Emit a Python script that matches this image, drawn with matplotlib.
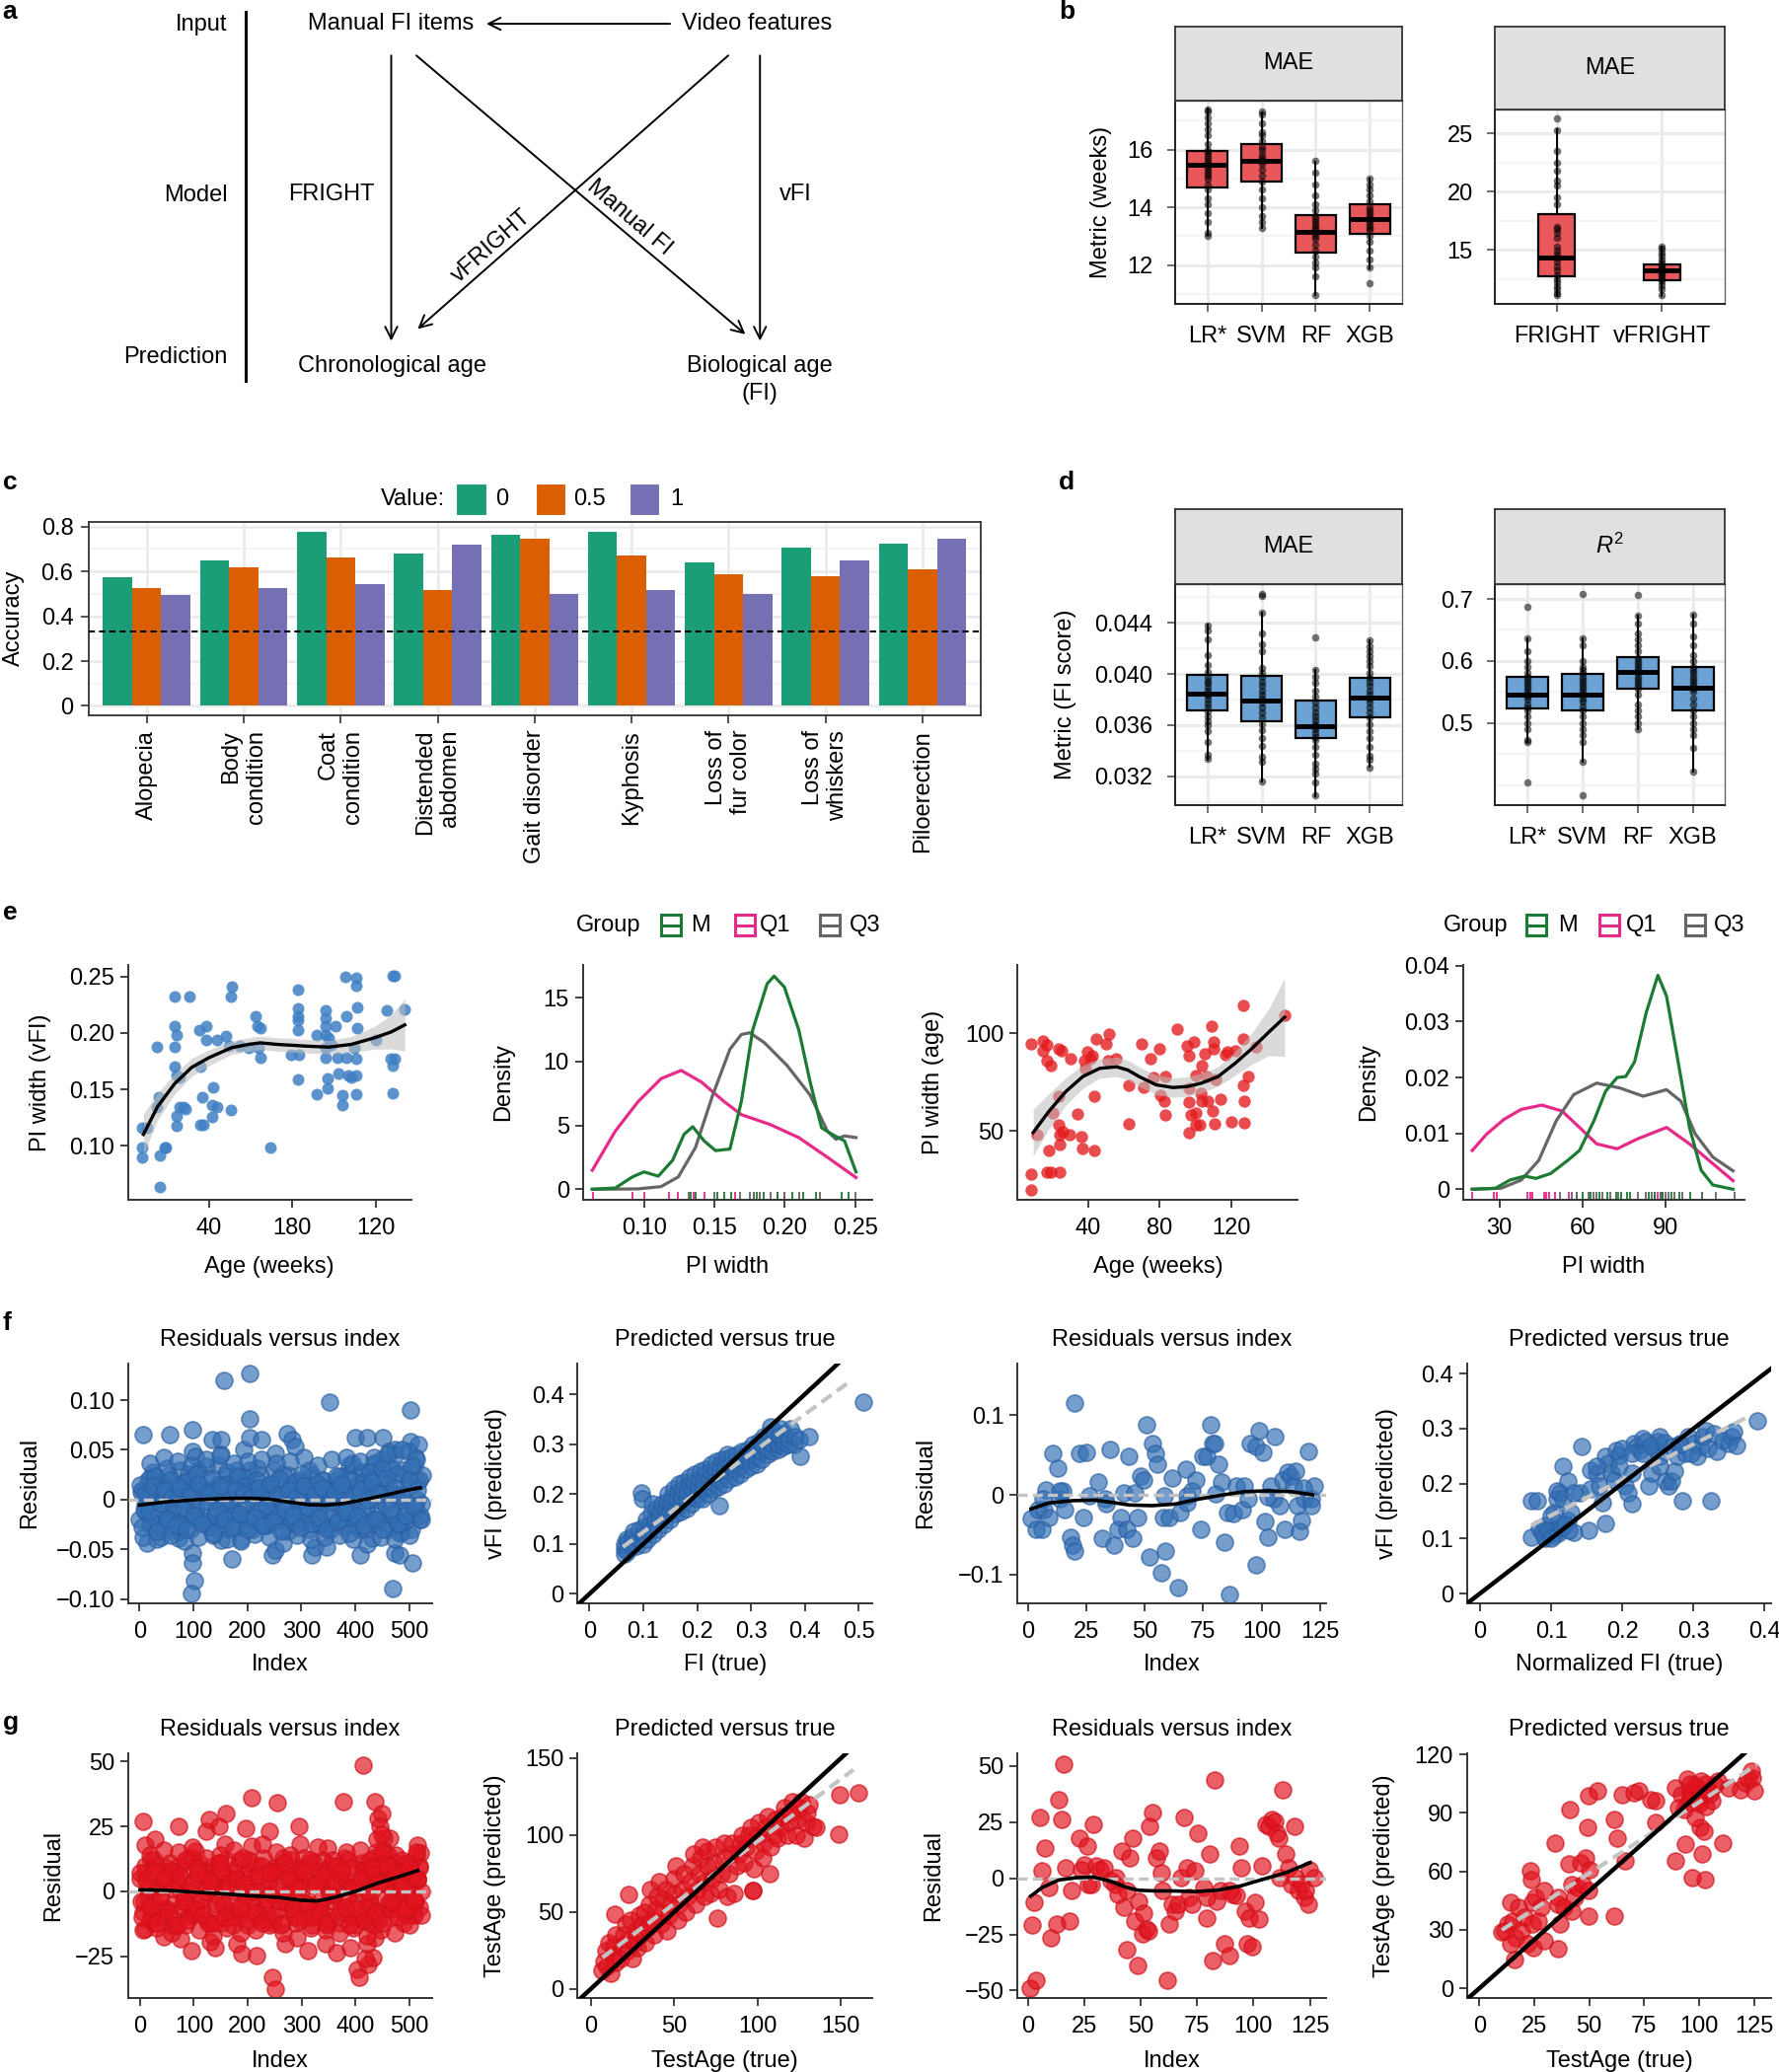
import matplotlib
matplotlib.use('Agg')
import matplotlib.pyplot as plt
import numpy as np
import matplotlib.transforms as mtransforms
from matplotlib.patches import Rectangle
from matplotlib.ticker import FixedLocator

plt.rcParams['font.family'] = ['Liberation Sans', 'DejaVu Sans']
plt.rcParams['font.size'] = 17
plt.rcParams['mathtext.fontset'] = 'custom'
plt.rcParams['mathtext.rm'] = 'Liberation Sans'
plt.rcParams['mathtext.it'] = 'Liberation Sans:italic'

# ------------------------------------------------------------------ DATA
# panel b (MAE in weeks)
b1_cats = ['LR*', 'SVM', 'RF', 'XGB']
b1_med = [15.46, 15.61, 13.16, 13.58]
b1_q1 = [14.68, 14.89, 12.42, 13.07]
b1_q3 = [15.94, 16.18, 13.74, 14.12]
b1_lo = [13.04, 13.30, 10.95, 11.88]
b1_hi = [17.41, 17.28, 15.56, 14.99]
b1_pts = [
    [13.0, 13.1, 13.5, 13.8, 14.1, 14.3, 14.6, 14.8, 15.0, 15.1, 15.2, 15.3, 15.4, 15.5, 15.6, 15.7, 15.8, 15.9, 16.0, 16.2, 16.5, 16.7, 16.9, 17.1, 17.3, 17.4],
    [13.3, 13.5, 13.7, 14.0, 14.3, 14.6, 14.9, 15.1, 15.3, 15.5, 15.6, 15.7, 15.8, 16.0, 16.1, 16.3, 16.5, 16.6, 16.9, 17.2, 17.3],
    [10.95, 11.6, 11.9, 12.1, 12.3, 12.5, 12.7, 12.9, 13.0, 13.1, 13.2, 13.3, 13.4, 13.5, 13.6, 13.7, 13.9, 14.1, 14.4, 14.8, 15.2, 15.6],
    [11.37, 11.9, 12.2, 12.5, 12.8, 13.0, 13.2, 13.3, 13.4, 13.5, 13.6, 13.7, 13.8, 13.9, 14.0, 14.2, 14.4, 14.6, 14.8, 15.0],
]
b2_cats = ['FRIGHT', 'vFRIGHT']
b2_med = [14.30, 13.24]
b2_q1 = [12.72, 12.41]
b2_q3 = [18.08, 13.79]
b2_lo = [11.06, 11.06]
b2_hi = [25.34, 15.28]
b2_pts = [
    [11.1, 11.3, 11.6, 11.9, 12.2, 12.5, 12.8, 13.2, 13.6, 14.0, 14.3, 14.6, 14.9, 15.3, 16.0, 16.5, 16.8, 17.0, 18.9, 19.5, 20.5, 21.0, 21.8, 22.5, 23.5, 25.3, 26.3],
    [11.1, 11.6, 12.0, 12.3, 12.5, 12.7, 12.9, 13.1, 13.2, 13.3, 13.5, 13.7, 13.9, 14.2, 14.5, 14.8, 15.1, 15.3],
]

# panel c (accuracy per FI item)
c_items = ['Alopecia', 'Body\ncondition', 'Coat\ncondition', 'Distended\nabdomen',
           'Gait disorder', 'Kyphosis', 'Loss of\nfur color', 'Loss of\nwhiskers', 'Piloerection']
c_acc0 = [0.576, 0.648, 0.777, 0.678, 0.763, 0.779, 0.642, 0.708, 0.724]
c_acc05 = [0.528, 0.617, 0.662, 0.519, 0.746, 0.671, 0.586, 0.580, 0.610]
c_acc1 = [0.496, 0.528, 0.542, 0.720, 0.500, 0.519, 0.500, 0.651, 0.748]
c_values = ['0', '0.5', '1']
c_chance = 0.333

# panel d (MAE in FI score, R^2)
d_cats = ['LR*', 'SVM', 'RF', 'XGB']
d1_med = [0.03847, 0.03795, 0.03592, 0.03818]
d1_q1 = [0.03714, 0.03629, 0.03496, 0.03665]
d1_q3 = [0.03992, 0.03982, 0.03792, 0.03971]
d1_lo = [0.03332, 0.03158, 0.03047, 0.03273]
d1_hi = [0.04387, 0.04483, 0.04031, 0.04262]
d1_pts = [
    [0.0334, 0.0337, 0.0347, 0.0355, 0.0360, 0.0363, 0.0367, 0.0371, 0.0374, 0.0377, 0.0380, 0.0383, 0.0385, 0.0387, 0.0390, 0.0393, 0.0395, 0.0398, 0.0402, 0.0407, 0.0415, 0.0427, 0.0434, 0.0438],
    [0.0316, 0.0331, 0.0335, 0.0344, 0.0350, 0.0356, 0.0361, 0.0366, 0.0370, 0.0374, 0.0378, 0.0381, 0.0384, 0.0387, 0.0391, 0.0394, 0.0398, 0.0401, 0.0405, 0.0418, 0.0423, 0.0432, 0.0448, 0.0461, 0.0463],
    [0.0305, 0.0315, 0.0322, 0.0326, 0.0330, 0.0337, 0.0343, 0.0348, 0.0351, 0.0354, 0.0357, 0.0359, 0.0361, 0.0364, 0.0367, 0.0370, 0.0374, 0.0378, 0.0382, 0.0387, 0.0393, 0.0398, 0.0403, 0.0429],
    [0.0327, 0.0333, 0.0336, 0.0343, 0.0350, 0.0355, 0.0361, 0.0366, 0.0370, 0.0374, 0.0378, 0.0381, 0.0384, 0.0387, 0.0391, 0.0394, 0.0397, 0.0401, 0.0406, 0.0410, 0.0414, 0.0418, 0.0422, 0.0426],
]
d2_med = [0.546, 0.545, 0.583, 0.557]
d2_q1 = [0.524, 0.520, 0.555, 0.520]
d2_q3 = [0.575, 0.579, 0.606, 0.590]
d2_lo = [0.4685, 0.438, 0.490, 0.422]
d2_hi = [0.636, 0.636, 0.673, 0.675]
d2_pts = [
    [0.404, 0.469, 0.473, 0.49, 0.5, 0.51, 0.52, 0.525, 0.53, 0.537, 0.542, 0.546, 0.55, 0.555, 0.56, 0.565, 0.57, 0.575, 0.58, 0.59, 0.6, 0.615, 0.636, 0.687],
    [0.383, 0.438, 0.47, 0.48, 0.49, 0.5, 0.51, 0.52, 0.527, 0.535, 0.54, 0.545, 0.55, 0.555, 0.56, 0.565, 0.57, 0.575, 0.58, 0.585, 0.59, 0.6, 0.625, 0.636, 0.708],
    [0.49, 0.5, 0.51, 0.52, 0.53, 0.545, 0.555, 0.56, 0.565, 0.57, 0.575, 0.58, 0.585, 0.59, 0.595, 0.6, 0.605, 0.615, 0.625, 0.635, 0.645, 0.66, 0.673, 0.707],
    [0.422, 0.46, 0.48, 0.49, 0.5, 0.51, 0.52, 0.53, 0.54, 0.55, 0.555, 0.56, 0.565, 0.57, 0.575, 0.58, 0.585, 0.59, 0.6, 0.61, 0.625, 0.64, 0.66, 0.675],
]

# panel e1: PI width (vFI) vs age
e1_age = [7.8, 10.5, 7.8, 7.8, 16.5, 16.5, 19.5, 19.0, 14.9, 14.9, 16.0, 23.6, 30.7, 23.6, 24.7, 23.6, 23.6, 24.7, 25.8, 25.8,
          24.7, 24.7, 28.0, 29.0, 35.9, 36.7, 35.9, 37.3, 35.6, 38.9, 38.9, 43.8, 42.2, 41.6, 43.8, 41.6, 50.7, 50.9, 50.7, 48.2,
          49.8, 55.0, 59.1, 62.4, 63.5, 64.6, 64.0, 64.6, 69.5, 79.6, 82.9, 82.9, 82.9, 82.9, 82.9, 82.9, 83.4, 91.9, 91.9, 96.0,
          96.0, 96.0, 96.0, 96.0, 96.0, 96.8, 96.8, 97.4, 98.7, 100.7, 101.5, 102.3, 104.2, 104.2, 105.6, 106.1, 106.1, 106.9, 108.3, 109.7,
          110.5, 110.5, 111.0, 111.0, 110.5, 110.5, 110.5, 120.0, 125.2, 127.4, 128.0, 128.0, 129.1, 128.0, 129.3, 134.0]
e1_piw = [0.116, 0.116, 0.0986, 0.0899, 0.0913, 0.063, 0.0986, 0.0986, 0.1877, 0.1347, 0.1434, 0.2323, 0.2323, 0.2057, 0.1979, 0.1877, 0.1704, 0.1622, 0.1608, 0.1347,
          0.126, 0.1174, 0.1347, 0.1327, 0.1704, 0.1434, 0.1182, 0.1182, 0.2028, 0.2063, 0.1941, 0.1941, 0.1521, 0.1362, 0.1347, 0.1255, 0.1318, 0.241, 0.2323, 0.197,
          0.1883, 0.1883, 0.1869, 0.2144, 0.2057, 0.2042, 0.1869, 0.1782, 0.0986, 0.1802, 0.2381, 0.2216, 0.2144, 0.2115, 0.2028, 0.1588, 0.1802, 0.1984, 0.1455, 0.2201,
          0.2129, 0.2057, 0.1984, 0.1869, 0.1782, 0.1594, 0.1512, 0.1955, 0.1898, 0.2057, 0.1782, 0.1637, 0.1449, 0.1362, 0.2497, 0.2144, 0.1782, 0.1622, 0.1608, 0.1869,
          0.2491, 0.2419, 0.2230, 0.2042, 0.1767, 0.1622, 0.1455, 0.1941, 0.2201, 0.1767, 0.1709, 0.2506, 0.2506, 0.1463, 0.1767, 0.2207]
e1_fit_x = [8.6, 15.4, 23.6, 31.8, 40.0, 50.9, 59.1, 64.6, 72.8, 86.4, 97.4, 108.3, 119.2, 127.4, 134.0]
e1_fit_y = [0.110, 0.1347, 0.155, 0.1695, 0.178, 0.1869, 0.1898, 0.1912, 0.1898, 0.1883, 0.1874, 0.1898, 0.1955, 0.2008, 0.2071]
e1_fit_se = [0.018, 0.012, 0.009, 0.008, 0.007, 0.006, 0.006, 0.006, 0.006, 0.006, 0.006, 0.007, 0.010, 0.015, 0.023]
e1_xtick_vals = [40, 80, 120]
e1_xtick_labels = ['40', '180', '120']

# panel e2: density of PI width (vFI)
e2_q1_x = [0.0634, 0.0797, 0.0959, 0.1122, 0.1264, 0.1407, 0.1569, 0.1691, 0.1894, 0.2098, 0.2301, 0.2504]
e2_q1_y = [1.49, 4.56, 6.87, 8.67, 9.31, 8.41, 6.87, 5.85, 5.08, 4.05, 2.51, 0.92]
e2_m_x = [0.0634, 0.0797, 0.0919, 0.1, 0.1102, 0.1203, 0.1285, 0.1346, 0.1427, 0.1508, 0.161, 0.1691, 0.1772, 0.1874, 0.1923,
          0.1996, 0.2098, 0.2179, 0.226, 0.2341, 0.2423, 0.2504]
e2_m_y = [0.0, 0.1, 0.97, 1.36, 1.03, 2.26, 4.31, 4.9, 3.79, 3.03, 3.15, 6.87, 12.5, 16.1, 16.7, 15.85, 12.5, 8.41, 4.82, 4.26, 3.79, 1.36]
e2_q3_x = [0.0634, 0.0959, 0.1122, 0.1244, 0.1366, 0.1488, 0.161, 0.1691, 0.1752, 0.1854, 0.2016, 0.2179, 0.2301, 0.2362, 0.2423, 0.2504]
e2_q3_y = [0.0, 0.03, 0.21, 0.97, 3.28, 7.38, 10.97, 12.13, 12.26, 11.49, 9.69, 7.38, 4.56, 3.92, 4.18, 4.05]
e2_rug_q1 = [0.064, 0.092, 0.100, 0.118, 0.124, 0.135, 0.143, 0.165, 0.178, 0.195, 0.200]
e2_rug_m = [0.133, 0.137, 0.152, 0.157, 0.162, 0.180, 0.185, 0.195, 0.205, 0.213, 0.222, 0.240, 0.245]
e2_rug_q3 = [0.132, 0.150, 0.168, 0.175, 0.178, 0.182, 0.190, 0.200, 0.210, 0.225, 0.250]

# panel e3: PI width (age) vs age
e3_age = [8.7, 8.7, 8.7, 11.5, 15.2, 15.2, 17.4, 17.4, 18.4, 19.6, 20.6, 17.4, 19.6, 24.6, 24.0, 25.3, 24.0, 24.0, 24.6, 24.6,
          26.2, 29.7, 30.3, 34.0, 36.6, 37.2, 38.4, 37.8, 39.7, 41.3, 42.5, 43.4, 43.4, 44.4, 50.3, 51.0, 51.9, 55.4, 62.9, 62.9,
          70.1, 71.0, 74.8, 76.4, 79.8, 80.4, 82.6, 83.3, 82.9, 89.8, 95.2, 96.1, 96.1, 96.1, 96.1, 97.4, 98.9, 100.2, 100.2, 100.2,
          102.1, 102.7, 103.6, 103.6, 105.2, 106.1, 106.5, 108.7, 109.3, 109.9, 110.2, 110.5, 111.2, 114.0, 116.5, 117.7, 119.6, 121.8, 126.5, 126.2,
          126.2, 126.8, 126.8, 129.3, 133.7, 149.4]
e3_piw = [94.3, 28.1, 20.0, 48.0, 96.0, 91.2, 94.1, 85.9, 39.9, 83.3, 59.3, 29.0, 29.0, 29.0, 92.1, 91.2, 68.0, 53.4, 48.0, 43.3,
          49.7, 48.0, 87.0, 58.9, 47.0, 41.2, 82.0, 85.9, 90.4, 87.0, 88.2, 68.0, 39.9, 96.8, 94.6, 85.9, 99.7, 86.7, 73.1, 53.9,
          94.3, 72.2, 87.0, 77.3, 92.1, 68.5, 65.2, 58.1, 77.8, 102.2, 93.3, 88.4, 71.9, 64.8, 49.2, 58.4, 95.5, 78.6, 59.3, 53.4,
          53.4, 69.4, 83.3, 65.2, 89.6, 77.8, 65.2, 103.4, 60.1, 95.5, 91.8, 53.9, 76.1, 66.5, 89.1, 90.4, 54.5, 91.2, 114.0, 97.1,
          73.2, 65.2, 54.0, 78.1, 92.9, 109.3]
e3_fit_x = [9.6, 18.4, 27.8, 37.2, 46.6, 56.0, 62.3, 68.5, 77.9, 87.3, 95.2, 103.0, 112.4, 121.8, 131.2, 140.6, 149.4]
e3_fit_y = [49.2, 60.1, 70.2, 77.8, 82.0, 82.8, 81.1, 77.8, 73.6, 72.2, 72.7, 74.4, 77.8, 84.5, 92.1, 100.5, 108.1]
e3_fit_se = [12, 9, 7, 6, 5, 5, 5, 5, 5, 5, 5, 5, 5, 6, 8, 12, 20]
e3_xtick_vals = [40, 80, 120]

# panel e4: density of PI width (age)
e4_q1_x = [20.2, 25.4, 31.7, 37.9, 45.3, 52.6, 58.9, 65.1, 72.5, 79.8, 90.3, 98.6, 107.0, 114.3]
e4_q1_y = [0.00694, 0.00988, 0.01253, 0.01429, 0.01506, 0.0140, 0.01106, 0.00812, 0.00724, 0.0090, 0.01106, 0.00812, 0.00459, 0.00153]
e4_m_x = [20.2, 28.6, 33.8, 39.1, 43.2, 48.5, 54.7, 58.9, 64.1, 68.3, 72.5, 75.6, 78.8, 83.0, 87.2, 90.3, 94.5, 98.6, 102.8, 107.0, 114.3]
e4_m_y = [0.0, 0.00018, 0.00165, 0.00235, 0.00194, 0.00282, 0.00518, 0.00694, 0.01224, 0.01753, 0.0200, 0.02018, 0.02282, 0.03165,
          0.03829, 0.03459, 0.02282, 0.01106, 0.00341, 0.00076, 0.0]
e4_q3_x = [20.2, 30.6, 37.9, 44.2, 50.5, 56.8, 65.1, 73.5, 81.9, 90.3, 95.5, 100.7, 107.0, 114.3]
e4_q3_y = [0.0, 0.00018, 0.00165, 0.00518, 0.01224, 0.01694, 0.0190, 0.01812, 0.01665, 0.01782, 0.01576, 0.00988, 0.00576, 0.00329]
e4_rug_q1 = [20, 28, 29, 40, 41, 42, 46, 47, 48, 50, 55, 86, 87, 88, 89]
e4_rug_m = [58, 60, 63, 66, 69, 72, 74, 76, 77, 84, 86, 89, 92, 95, 99, 103]
e4_rug_q3 = [52, 56, 58, 62, 64, 65, 67, 70, 73, 80, 83, 85, 88, 90, 91, 93, 96, 103, 108, 115]

# panel f1: vFI residuals versus index (outliers + dense band)
f1_idx = [6, 56, 99, 99, 104, 156, 205, 205, 135, 151, 151, 193, 204, 226, 252, 273, 283, 289, 352, 400,
          423, 452, 503, 503, 518, 511, 463, 474, 389, 14, 40, 72, 99, 99, 101, 96, 172, 151, 188, 246,
          252, 320, 326, 347, 410, 431, 470, 474, 482, 506, 486, 521,
          0, 5, 10, 15, 20, 25, 30, 35, 40, 45, 50, 55, 60, 65, 70, 75, 80, 85, 90, 95,
          100, 105, 110, 115, 120, 125, 130, 135, 140, 145, 150, 155, 160, 165, 170, 175, 180, 185, 190, 195,
          200, 205, 210, 215, 220, 225, 230, 235, 240, 245, 250, 255, 260, 265, 270, 275, 280, 285, 290, 295,
          300, 305, 310, 315, 320, 325, 330, 335, 340, 345, 350, 355, 360, 365, 370, 375, 380, 385, 390, 395,
          400, 405, 410, 415, 420, 425, 430, 435, 440, 445, 450, 455, 460, 465, 470, 475, 480, 485, 490, 495,
          500, 505, 510, 515, 520, 525,
          3, 11, 19, 27, 35, 43, 51, 59, 67, 75, 83, 91, 99, 107, 115, 123, 131, 139, 147, 155,
          163, 171, 179, 187, 195, 203, 211, 219, 227, 235, 243, 251, 259, 267, 275, 283, 291, 299, 307, 315,
          323, 331, 339, 347, 355, 363, 371, 379, 387, 395, 403, 411, 419, 427, 435, 443, 451, 459, 467, 475,
          483, 491, 499, 507, 515, 523,
          6, 19, 32, 45, 58, 71, 84, 97, 110, 123, 136, 149, 162, 175, 188, 201, 214, 227, 240, 253,
          266, 279, 292, 305, 318, 331, 344, 357, 370, 383, 396, 409, 422, 435, 448, 461, 474, 487, 500, 513]
f1_res = [0.065, 0.065, 0.070, 0.048, 0.043, 0.120, 0.127, 0.081, 0.060, 0.060, 0.045, 0.050, 0.062, 0.060, 0.046, 0.066, 0.060, 0.053, 0.098, 0.062,
          0.062, 0.062, 0.090, 0.058, 0.055, 0.042, 0.048, 0.050, 0.035, -0.044, -0.038, -0.039, -0.054, -0.064, -0.082, -0.095, -0.060, -0.041, -0.040, -0.056,
          -0.051, -0.056, -0.048, -0.048, -0.056, -0.039, -0.090, -0.054, -0.056, -0.064, -0.033, -0.016,
          -0.020, 0.010, -0.005, 0.020, -0.025, 0.028, 0.000, -0.015, 0.018, -0.030, 0.005, 0.025, -0.010, 0.015, -0.022, 0.030, 0.000, -0.018, 0.012, -0.030,
          0.020, -0.008, 0.030, -0.020, 0.005, 0.022, -0.028, 0.010, -0.012, 0.035, -0.020, 0.000, 0.025, -0.030, 0.012, -0.010, 0.030, -0.022, 0.005, 0.020,
          -0.015, 0.030, -0.030, 0.010, -0.005, 0.025, -0.025, 0.000, 0.015, -0.020, 0.030, -0.010, 0.020, -0.030, 0.005, 0.025, -0.015, 0.010, -0.025, 0.020,
          0.000, -0.020, 0.015, -0.030, 0.025, -0.010, 0.005, -0.025, 0.020, -0.015, 0.010, -0.030, 0.000, 0.020, -0.020, 0.010, -0.028, 0.025, -0.010, 0.000,
          -0.020, 0.015, -0.030, 0.028, -0.010, 0.020, -0.025, 0.035, 0.000, -0.020, 0.040, 0.010, -0.030, 0.030, -0.015, 0.045, 0.000, -0.025, 0.030, -0.010,
          0.020, -0.030, 0.035, 0.000, -0.020, 0.025,
          0.008, -0.012, 0.022, -0.002, -0.024, 0.014, 0.032, -0.016, 0.004, -0.032, 0.018, 0.026, -0.006, -0.020, 0.010, 0.034, -0.026, 0.000, 0.016, -0.014,
          0.028, -0.004, -0.028, 0.012, 0.022, -0.018, 0.006, 0.032, -0.010, -0.026, 0.014, 0.002, -0.016, 0.026, -0.032, 0.008, -0.006, 0.018, -0.022, 0.030,
          0.004, -0.012, 0.020, -0.028, 0.012, -0.002, 0.024, -0.020, 0.008, 0.036, -0.016, 0.028, -0.030, 0.014, 0.042, -0.008, 0.022, -0.024, 0.032, 0.006,
          -0.034, 0.026, 0.048, -0.014, 0.018, -0.004,
          -0.038, 0.036, -0.040, 0.042, -0.036, 0.038, -0.042, 0.035, -0.038, 0.040, -0.036, 0.044, -0.040, 0.036, -0.042, 0.038, -0.035, 0.040, -0.038, 0.036,
          -0.044, 0.038, -0.036, 0.042, -0.040, 0.035, -0.038, 0.040, -0.036, 0.042, -0.040, 0.038, -0.045, 0.036, -0.038, 0.045, -0.040, 0.050, -0.036, 0.040]
# extra band points (index positions shared by the two extra f1 / g1 bands)
band_idx_d = [1, 8, 15, 22, 29, 36, 43, 50, 57, 64, 71, 78, 85, 92, 99, 106, 113, 120, 127, 134,
              141, 148, 155, 162, 169, 176, 183, 190, 197, 204, 211, 218, 225, 232, 239, 246, 253, 260, 267, 274,
              281, 288, 295, 302, 309, 316, 323, 330, 337, 344, 351, 358, 365, 372, 379, 386, 393, 400, 407, 414,
              421, 428, 435, 442, 449, 456, 463, 470, 477, 484, 491, 498, 505, 512, 519]
band_idx_e = [4, 11, 18, 25, 32, 39, 46, 53, 60, 67, 74, 81, 88, 95, 102, 109, 116, 123, 130, 137,
              144, 151, 158, 165, 172, 179, 186, 193, 200, 207, 214, 221, 228, 235, 242, 249, 256, 263, 270, 277,
              284, 291, 298, 305, 312, 319, 326, 333, 340, 347, 354, 361, 368, 375, 382, 389, 396, 403, 410, 417,
              424, 431, 438, 445, 452, 459, 466, 473, 480, 487, 494, 501, 508, 515, 522]
f1_res_d = [0.015, -0.010, 0.004, -0.022, 0.024, -0.004, 0.012, -0.018, 0.020, -0.008,
            0.002, -0.026, 0.018, 0.008, -0.014, 0.026, -0.020, 0.006, -0.002, 0.022,
            -0.016, 0.010, -0.024, 0.016, 0.000, -0.012, 0.024, -0.006, 0.014, -0.020,
            0.004, 0.020, -0.010, -0.026, 0.012, 0.002, -0.016, 0.022, -0.004, 0.008,
            -0.022, 0.018, -0.008, 0.026, -0.014, 0.006, -0.002, 0.016, -0.024, 0.010,
            0.000, -0.018, 0.024, -0.006, 0.014, -0.012, 0.020, -0.026, 0.004, 0.018,
            -0.010, 0.028, -0.020, 0.008, 0.032, -0.004, 0.016, -0.014, 0.026, 0.000,
            -0.022, 0.012, 0.034, -0.008, 0.020]
f1_res_e = [-0.028, 0.006, -0.012, 0.014, -0.032, -0.004, 0.010, -0.020, 0.002, -0.026,
            0.012, -0.008, -0.030, 0.004, -0.016, 0.016, -0.024, -0.002, 0.008, -0.034,
            -0.010, 0.014, -0.020, 0.000, -0.028, 0.010, -0.014, 0.006, -0.030, 0.002,
            -0.018, 0.012, -0.026, -0.006, 0.016, -0.022, 0.004, -0.032, -0.010, 0.010,
            -0.016, 0.002, -0.028, 0.014, -0.008, -0.024, 0.006, -0.018, 0.012, -0.030,
            -0.002, 0.008, -0.022, 0.016, -0.012, -0.034, 0.004, -0.016, 0.010, -0.026,
            0.000, 0.018, -0.020, 0.006, -0.030, 0.022, -0.010, 0.012, -0.024, 0.004,
            -0.016, 0.020, -0.006, 0.010, -0.020]
f1_fit_x = [0, 50.7, 103.6, 156.4, 199.8, 241, 283.3, 315, 346.7, 378.4, 420.7, 463, 494.7, 521]
f1_fit_y = [-0.0056, -0.0023, -0.0003, 0.001, 0.0013, 0.0003, -0.003, -0.0053, -0.0056, -0.004, 0.0003, 0.0053, 0.0092, 0.0119]

# panel f2: vFI predicted versus true FI
f2_true = [0.065, 0.065, 0.066, 0.068, 0.070, 0.072, 0.078, 0.080, 0.080, 0.082, 0.088, 0.090, 0.092, 0.096, 0.098, 0.100, 0.100, 0.102, 0.105, 0.108,
           0.110, 0.112, 0.114, 0.116, 0.118, 0.120, 0.122, 0.124, 0.128, 0.130, 0.132, 0.134, 0.138, 0.140, 0.142, 0.144, 0.146, 0.150, 0.150, 0.152,
           0.154, 0.156, 0.160, 0.160, 0.162, 0.164, 0.166, 0.170, 0.170, 0.172, 0.174, 0.176, 0.180, 0.180, 0.182, 0.184, 0.186, 0.190, 0.190, 0.192,
           0.194, 0.196, 0.200, 0.200, 0.202, 0.204, 0.206, 0.210, 0.210, 0.212, 0.214, 0.216, 0.220, 0.220, 0.222, 0.224, 0.226, 0.230, 0.230, 0.232,
           0.234, 0.236, 0.240, 0.240, 0.242, 0.244, 0.246, 0.241, 0.250, 0.250, 0.252, 0.254, 0.256, 0.260, 0.260, 0.262, 0.264, 0.270, 0.270, 0.272,
           0.274, 0.280, 0.280, 0.282, 0.284, 0.290, 0.290, 0.292, 0.294, 0.300, 0.300, 0.302, 0.304, 0.310, 0.310, 0.312, 0.314, 0.320, 0.320, 0.322,
           0.324, 0.330, 0.330, 0.332, 0.334, 0.336, 0.340, 0.340, 0.342, 0.344, 0.350, 0.350, 0.352, 0.354, 0.360, 0.360, 0.362, 0.370, 0.370, 0.372,
           0.380, 0.382, 0.391, 0.390, 0.408, 0.508]
f2_pred = [0.090, 0.100, 0.080, 0.110, 0.085, 0.105, 0.095, 0.100, 0.115, 0.125, 0.095, 0.110, 0.130, 0.203, 0.190, 0.100, 0.120, 0.135, 0.150, 0.110,
           0.125, 0.140, 0.160, 0.180, 0.120, 0.140, 0.150, 0.170, 0.130, 0.150, 0.165, 0.180, 0.140, 0.155, 0.170, 0.185, 0.200, 0.150, 0.165, 0.180,
           0.195, 0.210, 0.160, 0.170, 0.190, 0.205, 0.220, 0.165, 0.180, 0.195, 0.210, 0.225, 0.170, 0.190, 0.205, 0.220, 0.235, 0.180, 0.195, 0.210,
           0.225, 0.240, 0.190, 0.200, 0.215, 0.230, 0.245, 0.190, 0.210, 0.225, 0.240, 0.250, 0.200, 0.215, 0.230, 0.245, 0.260, 0.210, 0.225, 0.240,
           0.250, 0.265, 0.215, 0.230, 0.245, 0.260, 0.270, 0.176, 0.220, 0.240, 0.255, 0.270, 0.280, 0.230, 0.245, 0.260, 0.275, 0.235, 0.250, 0.265,
           0.280, 0.240, 0.255, 0.270, 0.285, 0.250, 0.265, 0.280, 0.290, 0.255, 0.270, 0.285, 0.300, 0.260, 0.275, 0.290, 0.305, 0.270, 0.285, 0.300,
           0.315, 0.280, 0.290, 0.305, 0.320, 0.335, 0.285, 0.300, 0.310, 0.325, 0.290, 0.300, 0.315, 0.330, 0.295, 0.305, 0.320, 0.300, 0.310, 0.330,
           0.300, 0.315, 0.276, 0.310, 0.316, 0.385]
f2_reg_x = [0.062, 0.484]
f2_reg_y = [0.094, 0.426]

# panel f3: normalized vFI residuals versus index
f3_idx = [1.2, 3.2, 4.2, 5.7, 6.7, 7.7, 8.7, 10.6, 12.6, 13.6, 14.9, 15.6, 18.1, 19.1, 19.8, 19.8, 21.8, 23.5, 24.8, 26.0,
          30.0, 31.7, 32.9, 34.9, 36.6, 38.4, 39.6, 40.8, 42.1, 43.3, 44.6, 47.0, 48.3, 49.5, 50.7, 52.2, 53.2, 54.7, 55.2, 57.7,
          58.9, 57.2, 60.6, 61.9, 64.4, 65.1, 67.6, 68.1, 70.0, 71.8, 73.8, 75.0, 76.7, 78.0, 79.2, 80.0, 81.7, 82.9, 84.2, 85.4,
          86.1, 87.9, 89.1, 91.6, 92.8, 94.1, 95.3, 97.8, 99.0, 97.8, 100.7, 101.5, 102.7, 104.0, 105.7, 105.2, 107.7, 108.9, 110.1, 111.4,
          112.6, 113.9, 114.6, 115.6, 116.3, 117.1, 118.6, 120.0, 121.3, 122.5, 121.3, 118.1, 102.7, 80.4, 68.1, 58.2, 45.8, 33.4, 13.6, 6.2]
f3_res = [-0.030, -0.043, -0.018, -0.043, -0.018, 0.006, -0.028, 0.052, 0.034, -0.005, 0.005, -0.018, -0.053, -0.063, -0.071, 0.116, 0.052, -0.028, 0.054, -0.001,
          0.016, -0.055, -0.005, 0.057, -0.063, -0.043, -0.028, 0.003, -0.043, 0.048, -0.055, -0.028, 0.024, 0.019, 0.088, -0.078, 0.065, 0.052, 0.038, -0.028,
          -0.071, -0.098, -0.028, 0.021, -0.117, -0.022, 0.032, -0.001, 0.005, 0.019, -0.043, 0.048, 0.048, 0.088, 0.065, 0.065, 0.038, 0.016, -0.059, -0.022,
          -0.125, -0.024, 0.011, -0.018, 0.011, -0.005, 0.065, 0.061, 0.081, -0.088, 0.054, -0.034, -0.053, 0.011, 0.073, -0.005, -0.014, 0.019, -0.043, 0.028,
          0.024, 0.011, 0.030, -0.014, -0.046, -0.032, -0.005, 0.055, -0.005, 0.011, -0.014, 0.009, -0.003, 0.001, -0.010, -0.001, 0.003, -0.011, 0.005, -0.005]
f3_fit_x = [1.2, 8.7, 18.6, 28.5, 35.9, 43.3, 53.2, 63.1, 73.0, 82.9, 92.8, 102.7, 112.6, 122.0]
f3_fit_y = [-0.0178, -0.0103, -0.0074, -0.0066, -0.0095, -0.0128, -0.0136, -0.0116, -0.0054, -0.0004, 0.0041, 0.0050, 0.0041, 0.0]

# panel f4: vFI predicted versus normalized FI
f4_true = [0.072, 0.080, 0.072, 0.084, 0.088, 0.092, 0.092, 0.100, 0.104, 0.108, 0.104, 0.108, 0.108, 0.112, 0.116, 0.124, 0.124, 0.128, 0.132, 0.140,
           0.143, 0.152, 0.156, 0.164, 0.168, 0.172, 0.176, 0.176, 0.180, 0.184, 0.188, 0.192, 0.196, 0.200, 0.204, 0.208, 0.213, 0.217, 0.221, 0.225,
           0.229, 0.233, 0.237, 0.241, 0.245, 0.249, 0.253, 0.261, 0.265, 0.269, 0.273, 0.277, 0.281, 0.285, 0.289, 0.293, 0.301, 0.305, 0.309, 0.313,
           0.317, 0.321, 0.325, 0.329, 0.333, 0.341, 0.349, 0.353, 0.357, 0.361, 0.389, 0.213, 0.229, 0.253, 0.196, 0.156, 0.164, 0.116, 0.132, 0.100,
           0.213, 0.253, 0.297, 0.090, 0.096, 0.110, 0.115, 0.120, 0.100, 0.125, 0.240, 0.260, 0.270, 0.280]
f4_pred = [0.169, 0.169, 0.103, 0.118, 0.112, 0.124, 0.100, 0.112, 0.106, 0.118, 0.148, 0.172, 0.187, 0.184, 0.231, 0.204, 0.133, 0.148, 0.112, 0.184,
           0.267, 0.115, 0.190, 0.219, 0.195, 0.166, 0.127, 0.249, 0.237, 0.219, 0.207, 0.261, 0.252, 0.264, 0.195, 0.184, 0.163, 0.273, 0.267, 0.261,
           0.282, 0.276, 0.195, 0.219, 0.264, 0.276, 0.285, 0.204, 0.195, 0.204, 0.222, 0.249, 0.273, 0.169, 0.255, 0.285, 0.273, 0.249, 0.267, 0.285,
           0.297, 0.264, 0.169, 0.291, 0.258, 0.279, 0.273, 0.285, 0.294, 0.270, 0.315, 0.255, 0.255, 0.249, 0.231, 0.225, 0.231, 0.172, 0.184, 0.142,
           0.219, 0.231, 0.255, 0.105, 0.115, 0.110, 0.120, 0.125, 0.100, 0.115, 0.270, 0.275, 0.268, 0.272]
f4_reg_x = [0.072, 0.381]
f4_reg_y = [0.124, 0.324]

# panel g1: age residuals versus index
g1_idx = [5, 9, 9, 28, 44, 72, 75, 96, 103, 123, 129, 131, 140, 147, 160, 158, 179, 189, 197, 207,
          207, 216, 241, 246, 252, 255, 269, 295, 298, 311, 344, 349, 365, 377, 391, 403, 408, 415, 423, 433,
          436, 437, 442, 449, 454, 465, 485, 506, 509, 516, 521,
          418, 422, 425, 428, 430, 432, 435, 438, 440, 445, 450, 455, 460, 465, 470, 475, 480, 490, 500, 510, 515, 520,
          0, 5, 10, 15, 20, 25, 30, 35, 40, 45, 50, 55, 60, 65, 70, 75, 80, 85, 90, 95,
          100, 105, 110, 115, 120, 125, 130, 135, 140, 145, 150, 155, 160, 165, 170, 175, 180, 185, 190, 195,
          200, 205, 210, 215, 220, 225, 230, 235, 240, 245, 250, 255, 260, 265, 270, 275, 280, 285, 290, 295,
          300, 305, 310, 315, 320, 325, 330, 335, 340, 345, 350, 355, 360, 365, 370, 375, 380, 385, 390, 395,
          400, 405, 410, 415, 420, 425, 430, 435, 440, 445, 450, 455, 460, 465, 470, 475, 480, 485, 490, 495,
          500, 505, 510, 515, 520,
          2, 10, 18, 26, 34, 42, 50, 58, 66, 74, 82, 90, 98, 106, 114, 122, 130, 138, 146, 154,
          162, 170, 178, 186, 194, 202, 210, 218, 226, 234, 242, 250, 258, 266, 274, 282, 290, 298, 306, 314,
          322, 330, 338, 346, 354, 362, 370, 378, 386, 394, 402, 410, 418, 426, 434, 442, 450, 458, 466, 474,
          482, 490, 498, 506, 514, 522,
          6, 19, 32, 45, 58, 71, 84, 97, 110, 123, 136, 149, 162, 175, 188, 201, 214, 227, 240, 253,
          266, 279, 292, 305, 318, 331, 344, 357, 370, 383, 396, 409, 422, 435, 448, 461, 474, 487, 500, 513]
g1_res = [27.0, 17.7, -14.6, 20.0, -17.5, 25.0, -18.4, -22.9, 15.5, 23.0, 27.6, -19.3, -21.6, 25.0, 29.8, 18.0, -20.3, -24.1, 24.4, 35.9,
          17.4, -24.8, 23.1, -33.1, -37.5, 34.0, -20.3, 25.0, 18.0, -22.9, -20.3, 16.7, -23.5, 34.6, -21.6, -29.9, -33.1, 48.4, -28.0, -25.4,
          -17.8, 34.6, 28.2, 30.1, 20.6, 20.6, 10.3, -6.3, -8.8, 17.7, 14.8,
          -26, -20, -12, -5, 0, 5, 10, 15, 20, 25, 22, 15, 10, 5, 0, -2, 3, 8, 2, -4, 5, 10,
          5, -8, 10, -3, 12, -12, 2, -6, 8, -10, 3, 11, -5, 7, -13, 0, 9, -4, 13, -9,
          4, -7, 11, -2, 6, -11, 1, 10, -6, 8, -12, 3, 12, -8, 5, -4, 9, -10, 0, 7,
          -13, 11, -3, 6, -9, 2, 13, -7, 4, -11, 8, -1, 10, -12, 5, -5, 12, -8, 1, 9,
          -10, 6, -3, 11, -13, 3, 8, -6, 12, -9, 0, 10, -4, 7, -12, 4, 13, -7, 2, -10,
          9, -2, 11, -11, 6, -6, 10, -13, 3, 8, -8, 12, -5, 5, -10, 14, -3, 9, -12, 6,
          -1, 11, -9, 4, -6,
          -4, 7, -11, 12, 1, -7, 9, -13, 4, 10, -2, -9, 13, 5, -6, 8, -12, 2, 11, -5,
          6, -10, 0, 12, -8, 3, -3, 10, -11, 7, -1, 9, -7, 13, -4, 5, -12, 8, 2, -9,
          11, -6, 4, -13, 10, -2, 6, -8, 12, -5, 1, -10, 9, -3, 7, -11, 13, 3, -7, 11,
          -4, 8, -9, 5, 14, 0,
          -15, 14, -14, 16, -16, 15, -13, 17, -15, 13, -17, 14, -14, 16, -16, 12, -15, 18, -13, 15,
          -16, 14, -18, 13, -14, 17, -15, 12, -16, 15, -14, 16, -17, 13, -15, 14, -16, 12, -13, 15]
g1_res_d = [7, -4, 1, -9, 10, -2, 5, -7, 8, -11,
            3, -6, 12, 0, -8, 9, -3, 6, -12, 4,
            -1, 11, -5, 2, -10, 7, -7, 13, -2, 5,
            -9, 0, 10, -6, 3, -12, 8, -4, 11, -1,
            6, -10, 2, 9, -5, 12, -8, 4, -3, 7,
            -11, 1, 10, -7, 5, -2, 9, -13, 3, 8,
            -6, 12, -9, 4, 15, -3, 10, -5, 7, 0,
            -8, 11, 6, -4, 9]
g1_res_e = [-10, 4, -6, 8, -12, -2, 5, -8, 1, -13,
            6, -4, -11, 3, -7, 7, -9, 0, 4, -12,
            -5, 8, -10, 2, -13, 5, -6, 3, -11, 0,
            -8, 6, -12, -3, 7, -9, 2, -13, -4, 5,
            -7, 1, -11, 8, -5, -10, 3, -8, 6, -12,
            -1, 4, -9, 8, -6, -13, 2, -7, 5, -11,
            0, 9, -8, 3, -12, 10, -4, 6, -10, 2,
            -7, 9, -3, 5, -9]
g1_fit_x = [0, 48.8, 100.7, 152.6, 204.6, 256.5, 298, 329.2, 360.3, 401.9, 443.4, 484.9, 516]
g1_fit_y = [0.6, 0.4, -0.3, -0.9, -1.7, -2.3, -3.4, -3.7, -2.4, 0.1, 3.3, 5.9, 8.0]

# panel g2: TestAge predicted versus true
g2_true = [7, 8, 9, 10, 11, 12, 13, 14, 15, 15, 18, 19, 20, 21, 22, 23, 24, 25, 26, 27,
           28, 29, 30, 31, 32, 33, 34, 35, 36, 37, 38, 39, 40, 41, 42, 43, 44, 45, 46, 47,
           48, 50, 50, 51, 52, 53, 55, 56, 57, 58, 60, 61, 62, 63, 64, 65, 66, 67, 68, 69,
           70, 70, 72, 73, 74, 75, 76, 77, 78, 80, 80, 82, 83, 84, 85, 86, 88, 89, 90, 91,
           92, 93, 95, 96, 97, 98, 99, 100, 101, 103, 104, 105, 106, 107, 108, 110, 111, 112, 114, 115,
           116, 118, 119, 120, 121, 123, 124, 125, 126, 128, 129, 130, 131, 133, 135, 148.4, 149.4, 160.7, 22.7, 14.6,
           35, 97.4]
g2_pred = [12, 18, 25, 15, 30, 10, 22, 28, 17, 35, 20, 28, 35, 42, 25, 32, 45, 20, 30, 38,
           27, 48, 35, 42, 50, 30, 40, 55, 65, 45, 35, 52, 60, 70, 42, 50, 58, 65, 38, 48,
           55, 62, 72, 80, 45, 55, 65, 75, 50, 60, 70, 80, 88, 55, 65, 75, 85, 92, 60, 70,
           80, 90, 62, 72, 82, 92, 46, 65, 75, 85, 95, 60, 75, 88, 95, 62, 80, 88, 95, 100,
           82, 92, 100, 105, 64, 78, 90, 100, 108, 85, 95, 105, 112, 75, 92, 100, 110, 98, 105, 112,
           118, 100, 108, 115, 122, 100, 110, 118, 122, 98, 108, 115, 120, 106, 105, 100.4, 126.3, 127.4, 61.6, 48.6,
           42, 63.9]
g2_reg_x = [7.1, 157.5]
g2_reg_y = [20.5, 142.5]

# panel g3: normalized age residuals versus index
g3_idx = [0.8, 3.8, 2.8, 2.0, 5.3, 6.3, 7.5, 9.5, 10.3, 12.8, 13.8, 14.8, 15.8, 16.8, 18.3, 19.3, 22.9, 23.9, 25.1, 26.4,
          26.9, 28.1, 28.9, 30.2, 31.9, 33.9, 36.9, 38.4, 39.9, 41.5, 42.7, 44.0, 45.2, 46.5, 47.2, 48.5, 49.0, 50.8, 51.5, 52.8,
          53.5, 54.0, 55.3, 57.0, 58.3, 59.0, 59.8, 61.6, 62.8, 64.1, 65.3, 66.6, 68.1, 69.1, 70.4, 71.6, 72.9, 74.1, 75.4, 77.9,
          79.1, 80.4, 81.7, 82.9, 83.7, 85.4, 87.2, 89.2, 90.5, 92.2, 93.7, 94.7, 96.2, 97.2, 98.0, 99.2, 100.5, 102.3, 103.8, 105.5,
          106.8, 108.0, 109.3, 110.3, 111.3, 113.1, 114.3, 115.6, 116.8, 118.3, 118.8, 119.8, 121.4, 122.4, 123.1, 124.4, 124.9, 126.9, 38.9, 44.0,
          79.1, 89.2, 111.8]
g3_res = [-49.0, -45.6, -10.8, -20.7, 27.0, 3.3, 13.6, -4.1, -26.4, -20.4, 35.1, 26.2, 51.0, 4.7, -19.0, -5.6, 18.1, 4.0, 6.2, 14.4,
          -2.7, -2.7, 24.0, 5.5, 4.0, 4.7, -1.2, -2.7, -7.1, 12.1, -13.0, -31.6, 9.2, 18.1, -19.0, -39.0, -10.1, -24.9, -15.3, -22.7,
          -23.4, 23.3, 29.2, 9.2, 12.1, 2.5, -5.6, -45.6, -20.4, -11.6, -14.5, -11.6, 0.3, 27.0, 4.7, -8.6, -11.6, 3.3, 20.3, -4.1,
          -17.9, 10.7, -36.7, 44.0, -10.1, -5.6, -29.3, -34.5, -7.1, -7.4, 14.4, 4.7, -14.5, -29.3, -17.8, -30.5, -10.8, -18.2, 5.5, 24.0,
          23.3, 26.2, 25.5, 20.3, 18.1, 39.6, 10.7, 4.7, -2.7, 23.3, 0.3, -5.6, -2.4, -8.6, -5.6, -11.6, 4.0, 0.3, 0.3, -5.6,
          -8.6, -5.6, 0.3]
g3_fit_x = [1.3, 6.3, 13.8, 21.4, 28.9, 36.4, 44.0, 49.0, 56.5, 64.1, 74.1, 84.2, 94.2, 104.3, 114.3, 125.1]
g3_fit_y = [-7.9, -4.1, -0.7, 0.3, 0.6, -1.2, -4.1, -5.3, -5.6, -5.6, -5.9, -5.3, -3.4, -0.4, 2.5, 7.0]

# panel g4: TestAge predicted versus true (normalized)
g4_true = [10.2, 12.8, 14.0, 15.3, 16.1, 16.6, 17.9, 19.1, 20.4, 21.7, 23.0, 23.7, 24.2, 24.2, 24.7, 25.5, 26.8, 28.1, 29.3, 29.3,
           34.4, 35.7, 35.7, 36.5, 35.7, 38.3, 40.8, 41.3, 42.1, 42.1, 43.4, 44.6, 45.9, 47.2, 48.5, 49.2, 49.7, 50.3, 49.7, 49.7,
           53.6, 61.2, 61.2, 62.5, 66.3, 65.0, 70.2, 72.7, 77.8, 80.4, 80.4, 89.3, 89.3, 91.8, 93.1, 93.6, 94.4, 95.2, 95.7, 96.9,
           98.2, 99.5, 100.3, 100.8, 101.3, 102.0, 102.8, 103.3, 104.6, 105.9, 107.1, 108.4, 110.5, 113.5, 118.6, 121.2, 122.4, 123.7, 124.2, 125.0,
           95.7, 98.2, 90.6, 11.5, 14.0, 97.0, 99.0, 101.0, 103.0, 105.0, 100.0, 96.0]
g4_pred = [28.7, 32.9, 44.0, 34.6, 15.0, 26.1, 41.5, 29.5, 36.3, 22.7, 60.2, 56.0, 44.0, 32.9, 21.0, 46.6, 34.6, 41.5, 24.4, 50.0,
           74.7, 46.6, 43.2, 32.9, 20.1, 41.5, 63.7, 91.8, 53.4, 39.8, 46.6, 51.7, 64.5, 53.4, 67.1, 82.4, 98.6, 61.1, 50.0, 37.2,
           101.2, 37.2, 86.7, 77.3, 65.4, 99.5, 100.3, 101.2, 96.9, 96.1, 85.0, 65.4, 102.9, 99.5, 91.8, 73.9, 107.2, 95.2, 101.2, 56.8,
           104.6, 96.1, 82.4, 106.3, 68.8, 80.7, 56.0, 93.5, 101.2, 96.1, 104.6, 106.3, 74.7, 102.9, 102.0, 105.4, 107.2, 111.4, 108.0, 101.2,
           97.8, 87.5, 92.7, 29.5, 22.7, 100.0, 103.0, 99.0, 105.0, 100.0, 95.0, 105.0]
g4_reg_x = [10.2, 126.3]
g4_reg_y = [29.9, 114.8]

# ------------------------------------------------------------------ STYLE / LAYOUT
W, H = 1346.0, 1568.0
fig = plt.figure(figsize=(18.03, 21.0), dpi=100)
FS = 17


def rect(x0, y0, x1, y1):
    return [x0 / W, 1 - y1 / H, (x1 - x0) / W, (y1 - y0) / H]


BLUE = '#3470B5'
BLUE_E = '#2A5FA3'
RED = '#E2141F'
RED_E = '#D0101A'
GREEN_L = '#1B7A34'
PINK_L = '#E7298A'
GRAY_L = '#666666'


def classic(ax):
    for s in ['top', 'right']:
        ax.spines[s].set_visible(False)
    for s in ['left', 'bottom']:
        ax.spines[s].set_linewidth(1.4)
        ax.spines[s].set_color('#333333')
    ax.tick_params(direction='out', length=6, width=1.3, color='#333333', labelsize=FS)
    ax.tick_params(axis='x', pad=7)
    ax.tick_params(axis='y', pad=4)


def light(ax):
    ax.set_facecolor('white')
    for s in ['top', 'right']:
        ax.spines[s].set_color('#666666')
        ax.spines[s].set_linewidth(1.0)
    for s in ['left', 'bottom']:
        ax.spines[s].set_color('#222222')
        ax.spines[s].set_linewidth(1.4)
    ax.grid(which='major', color='#EBEBEB', lw=2.2)
    ax.grid(which='minor', axis='y', color='#F2F2F2', lw=1.2)
    ax.set_axisbelow(True)
    ax.tick_params(direction='out', length=6, width=1.2, color='#555555', labelsize=FS, pad=10)
    ax.tick_params(which='minor', length=0)


def strip(x0, y0, x1, y1, label):
    s = fig.add_axes(rect(x0, y0, x1, y1))
    s.set_facecolor('#E0E0E0')
    s.set_xticks([])
    s.set_yticks([])
    for sp in s.spines.values():
        sp.set_color('#333333')
        sp.set_linewidth(1.3)
    s.text(0.5, 0.5, label, transform=s.transAxes, ha='center', va='center', fontsize=FS)
    return s


def boxes(ax, pos, med, q1, q3, lo, hi, pts, color, width):
    stats = [dict(med=med[i], q1=q1[i], q3=q3[i], whislo=lo[i], whishi=hi[i], fliers=[])
             for i in range(len(med))]
    ax.bxp(stats, positions=pos, widths=width, patch_artist=True, showcaps=False, showfliers=False,
           boxprops=dict(facecolor=color, edgecolor='black', linewidth=1.6),
           medianprops=dict(color='black', linewidth=3.5),
           whiskerprops=dict(color='black', linewidth=1.4))
    for i, vals in enumerate(pts):
        ax.scatter([pos[i]] * len(vals), vals, s=30, color='black', alpha=0.55, lw=0, zorder=4)


# ------------------------------------------------------------------ overlay (panel a, letters, legends)
ov = fig.add_axes([0, 0, 1, 1])
ov.set_xlim(0, W)
ov.set_ylim(H, 0)
ov.axis('off')

for lab, (lx, ly) in {'a': (2, 9), 'b': (801, 9), 'c': (2, 365), 'd': (801, 365),
                      'e': (2, 691), 'f': (2, 1001), 'g': (2, 1304)}.items():
    ov.text(lx, ly, lab, fontsize=19, fontweight='bold', ha='left', va='center')

# panel a diagram
ov.text(172, 19, 'Input', ha='right', va='center', fontsize=FS)
ov.text(172, 148, 'Model', ha='right', va='center', fontsize=FS)
ov.text(172, 270, 'Prediction', ha='right', va='center', fontsize=FS)
ov.plot([186, 186], [9, 288], color='black', lw=2.2)
ov.text(296, 18, 'Manual FI items', ha='center', va='center', fontsize=FS)
ov.text(573, 18, 'Video features', ha='center', va='center', fontsize=FS)
ov.text(251, 147, 'FRIGHT', ha='center', va='center', fontsize=FS)
ov.text(602, 147, 'vFI', ha='center', va='center', fontsize=FS)
ov.text(297, 277, 'Chronological age', ha='center', va='center', fontsize=FS)
ov.text(575, 277, 'Biological age', ha='center', va='center', fontsize=FS)
ov.text(575, 298, '(FI)', ha='center', va='center', fontsize=FS)
ov.text(372, 186, 'vFRIGHT', ha='center', va='center', fontsize=FS, rotation=41.5, rotation_mode='anchor')
ov.text(476, 165, 'Manual FI', ha='center', va='center', fontsize=FS, rotation=-40.5, rotation_mode='anchor')
arrow_kw = dict(arrowstyle='->', lw=1.4, color='black', mutation_scale=22, shrinkA=0, shrinkB=0)
for (xs, ys), (xe, ye) in [((507, 18), (368, 18)), ((296, 42), (296, 258)), ((315, 42), (564, 253)),
                           ((551, 42), (316, 249)), ((575, 42), (575, 258))]:
    ov.annotate('', xy=(xe, ye), xytext=(xs, ys), arrowprops=arrow_kw)

# panel c legend
ov.text(288, 378, 'Value:', ha='left', va='center', fontsize=FS)
for (sx, tx, col, lab) in [(345, 375, '#1B9E77', c_values[0]), (405, 434, '#D95F02', c_values[1]),
                           (476, 507, '#7570B3', c_values[2])]:
    ov.add_patch(Rectangle((sx, 366), 23, 24, facecolor=col, edgecolor='white', lw=0.8))
    ov.text(tx, 378, lab, ha='left', va='center', fontsize=FS)

# panel e legends
for (gx, items) in [(436, [(500, 523, GREEN_L, 'M'), (556, 575, PINK_L, 'Q1'), (620, 643, GRAY_L, 'Q3')]),
                    (1092, [(1155, 1179, GREEN_L, 'M'), (1210, 1230, PINK_L, 'Q1'), (1275, 1297, GRAY_L, 'Q3')])]:
    ov.text(gx, 700, 'Group', ha='left', va='center', fontsize=FS)
    for (bx, tx, col, lab) in items:
        ov.add_patch(Rectangle((bx, 692), 15, 16, facecolor='white', edgecolor=col, lw=2.2))
        ov.plot([bx, bx + 15], [700, 700], color=col, lw=2.2)
        ov.text(tx, 700, lab, ha='left', va='center', fontsize=FS)

# ------------------------------------------------------------------ panel b
ax = fig.add_axes(rect(889, 76, 1061, 230))
light(ax)
boxes(ax, [1, 2, 3, 4], b1_med, b1_q1, b1_q3, b1_lo, b1_hi, b1_pts, '#E8585B', 0.75)
ax.set_xlim(0.4, 4.6)
ax.set_ylim(10.65, 17.7)
ax.set_xticks([1, 2, 3, 4])
ax.set_xticklabels(b1_cats)
ax.set_yticks([12, 14, 16])
ax.yaxis.set_minor_locator(FixedLocator([11, 13, 15, 17]))
ax.set_ylabel('Metric (weeks)', fontsize=FS, labelpad=11)
strip(889, 20, 1061, 76, 'MAE')

ax = fig.add_axes(rect(1131, 83, 1305, 230))
light(ax)
boxes(ax, [1, 2], b2_med, b2_q1, b2_q3, b2_lo, b2_hi, b2_pts, '#E8585B', 0.35)
ax.set_xlim(0.41, 2.6)
ax.set_ylim(10.35, 27.06)
ax.set_xticks([1, 2])
ax.set_xticklabels(b2_cats)
ax.set_yticks([15, 20, 25])
ax.yaxis.set_minor_locator(FixedLocator([12.5, 17.5, 22.5]))
strip(1131, 20, 1305, 83, 'MAE')

# ------------------------------------------------------------------ panel c
ax = fig.add_axes(rect(67, 395, 742, 541))
xc = np.arange(len(c_items))
bw = 0.3
ax.bar(xc - bw, c_acc0, bw, color='#1B9E77', zorder=2)
ax.bar(xc, c_acc05, bw, color='#D95F02', zorder=2)
ax.bar(xc + bw, c_acc1, bw, color='#7570B3', zorder=2)
ax.axhline(c_chance, ls=(0, (3, 2)), color='black', lw=1.5, zorder=3)
ax.set_xlim(-0.6, len(c_items) - 0.4)
ax.set_ylim(-0.04, 0.821)
ax.set_yticks([0, 0.2, 0.4, 0.6, 0.8])
ax.set_yticklabels(['0', '0.2', '0.4', '0.6', '0.8'])
ax.yaxis.set_minor_locator(FixedLocator([0.1, 0.3, 0.5, 0.7]))
ax.grid(which='major', color='#EBEBEB', lw=2.0)
ax.grid(which='minor', axis='y', color='#F2F2F2', lw=1.2)
ax.set_axisbelow(True)
for s in ax.spines.values():
    s.set_color('#333333')
    s.set_linewidth(1.3)
ax.tick_params(direction='out', length=6, width=1.2, color='#333333', labelsize=FS, pad=5)
ax.tick_params(which='minor', length=0)
ax.set_xticks(xc)
ax.set_xticklabels(c_items, rotation=90, ha='right', va='center', rotation_mode='anchor',
                   multialignment='right', fontsize=FS)
ax.set_ylabel('Accuracy', fontsize=FS, labelpad=12)

# ------------------------------------------------------------------ panel d
ax = fig.add_axes(rect(889, 442, 1061, 609))
light(ax)
boxes(ax, [1, 2, 3, 4], d1_med, d1_q1, d1_q3, d1_lo, d1_hi, d1_pts, '#6CA2D4', 0.75)
ax.set_xlim(0.4, 4.6)
ax.set_ylim(0.02977, 0.04704)
ax.set_xticks([1, 2, 3, 4])
ax.set_xticklabels(d_cats)
ax.set_yticks([0.032, 0.036, 0.040, 0.044])
ax.set_yticklabels(['0.032', '0.036', '0.040', '0.044'])
ax.yaxis.set_minor_locator(FixedLocator([0.030, 0.034, 0.038, 0.042, 0.046]))
ax.set_ylabel('Metric (FI score)', fontsize=FS, labelpad=13)
strip(889, 385, 1061, 442, 'MAE')

ax = fig.add_axes(rect(1131, 442, 1305, 609))
light(ax)
boxes(ax, [1, 2, 3, 4], d2_med, d2_q1, d2_q3, d2_lo, d2_hi, d2_pts, '#6CA2D4', 0.75)
ax.set_xlim(0.41, 4.58)
ax.set_ylim(0.368, 0.724)
ax.set_xticks([1, 2, 3, 4])
ax.set_xticklabels(d_cats)
ax.set_yticks([0.5, 0.6, 0.7])
ax.yaxis.set_minor_locator(FixedLocator([0.4, 0.45, 0.55, 0.65]))
strip(1131, 385, 1305, 442, r'$\it{R}^2$')

# ------------------------------------------------------------------ panel e
ax = fig.add_axes(rect(97, 730, 311, 908))
classic(ax)
ax.scatter(e1_age, e1_piw, s=75, color='#3F80C4', alpha=0.85, lw=0, zorder=2)
lo = [y - s for y, s in zip(e1_fit_y, e1_fit_se)]
hi = [y + s for y, s in zip(e1_fit_y, e1_fit_se)]
ax.fill_between(e1_fit_x, lo, hi, color='#BDBDBD', alpha=0.55, lw=0, zorder=3)
ax.plot(e1_fit_x, e1_fit_y, color='black', lw=2.4, zorder=4)
ax.set_xlim(1.3, 137)
ax.set_ylim(0.052, 0.2605)
ax.set_xticks(e1_xtick_vals)
ax.set_xticklabels(e1_xtick_labels)
ax.set_yticks([0.10, 0.15, 0.20, 0.25])
ax.set_yticklabels(['0.10', '0.15', '0.20', '0.25'])
ax.set_xlabel('Age (weeks)', fontsize=FS, labelpad=12)
ax.set_ylabel('PI width (vFI)', fontsize=FS, labelpad=13)

ax = fig.add_axes(rect(441, 730, 660, 908))
classic(ax)
trans = mtransforms.blended_transform_factory(ax.transData, ax.transAxes)
ax.vlines(e2_rug_q1, 0, 0.035, transform=trans, color=PINK_L, lw=1.3)
ax.vlines(e2_rug_m, 0, 0.035, transform=trans, color=GREEN_L, lw=1.3)
ax.vlines(e2_rug_q3, 0, 0.035, transform=trans, color=GRAY_L, lw=1.3)
ax.plot(e2_q1_x, e2_q1_y, color=PINK_L, lw=2.3)
ax.plot(e2_q3_x, e2_q3_y, color=GRAY_L, lw=2.3)
ax.plot(e2_m_x, e2_m_y, color=GREEN_L, lw=2.3)
ax.set_xlim(0.0567, 0.262)
ax.set_ylim(-0.83, 17.6)
ax.set_xticks([0.10, 0.15, 0.20, 0.25])
ax.set_xticklabels(['0.10', '0.15', '0.20', '0.25'])
ax.set_yticks([0, 5, 10, 15])
ax.set_xlabel('PI width', fontsize=FS, labelpad=12)
ax.set_ylabel('Density', fontsize=FS, labelpad=21)

ax = fig.add_axes(rect(770, 730, 982, 908))
classic(ax)
ax.scatter(e3_age, e3_piw, s=80, color='#E31A1C', alpha=0.78, lw=0, zorder=2)
lo = [y - s for y, s in zip(e3_fit_y, e3_fit_se)]
hi = [y + s for y, s in zip(e3_fit_y, e3_fit_se)]
ax.fill_between(e3_fit_x, lo, hi, color='#BDBDBD', alpha=0.55, lw=0, zorder=3)
ax.plot(e3_fit_x, e3_fit_y, color='black', lw=2.4, zorder=4)
ax.set_xlim(1.0, 156.8)
ax.set_ylim(14.8, 135)
ax.set_xticks(e3_xtick_vals)
ax.set_yticks([50, 100])
ax.set_xlabel('Age (weeks)', fontsize=FS, labelpad=12)
ax.set_ylabel('PI width (age)', fontsize=FS, labelpad=15)

ax = fig.add_axes(rect(1107, 730, 1320, 908))
classic(ax)
trans = mtransforms.blended_transform_factory(ax.transData, ax.transAxes)
ax.vlines(e4_rug_q1, 0, 0.035, transform=trans, color=PINK_L, lw=1.3)
ax.vlines(e4_rug_m, 0, 0.035, transform=trans, color=GREEN_L, lw=1.3)
ax.vlines(e4_rug_q3, 0, 0.035, transform=trans, color=GRAY_L, lw=1.3)
ax.plot(e4_q1_x, e4_q1_y, color=PINK_L, lw=2.3)
ax.plot(e4_q3_x, e4_q3_y, color=GRAY_L, lw=2.3)
ax.plot(e4_m_x, e4_m_y, color=GREEN_L, lw=2.3)
ax.set_xlim(16.9, 118.5)
ax.set_ylim(-0.0019, 0.0402)
ax.set_xticks([30, 60, 90])
ax.set_yticks([0, 0.01, 0.02, 0.03, 0.04])
ax.set_yticklabels(['0', '0.01', '0.02', '0.03', '0.04'])
ax.set_xlabel('PI width', fontsize=FS, labelpad=12)
ax.set_ylabel('Density', fontsize=FS, labelpad=18)


# ------------------------------------------------------------------ panels f and g
def resid_panel(r, x, y, fx, fy, color, edge, xlim, ylim, xt, yt, ytl, title, xpad, ypad):
    ax = fig.add_axes(rect(*r))
    classic(ax)
    ax.scatter(x, y, s=150, color=color, alpha=0.68, edgecolors=edge, linewidths=1.2, zorder=2)
    ax.axhline(0, color='#C4C4C4', lw=2.4, ls=(0, (3, 1.6)), zorder=3)
    ax.plot(fx, fy, color='black', lw=2.6, zorder=4)
    ax.set_xlim(*xlim)
    ax.set_ylim(*ylim)
    ax.set_xticks(xt)
    ax.set_yticks(yt)
    ax.set_yticklabels(ytl)
    ax.set_xlabel('Index', fontsize=FS, labelpad=xpad)
    ax.set_ylabel('Residual', fontsize=FS, labelpad=ypad)
    ax.set_title(title, fontsize=FS, pad=13)
    return ax


def pred_panel(r, x, y, rx, ry, color, edge, xlim, ylim, xt, xtl, yt, ytl, xlabel, ylabel, title, xpad, ypad):
    ax = fig.add_axes(rect(*r))
    classic(ax)
    ax.scatter(x, y, s=150, color=color, alpha=0.68, edgecolors=edge, linewidths=1.2, zorder=2)
    ax.axline((0, 0), slope=1, color='black', lw=3.2, zorder=4)
    ax.plot(rx, ry, color='#C4C4C4', lw=3.0, ls=(0, (3, 1.6)), zorder=3)
    ax.set_xlim(*xlim)
    ax.set_ylim(*ylim)
    ax.set_xticks(xt)
    ax.set_xticklabels(xtl)
    ax.set_yticks(yt)
    ax.set_yticklabels(ytl)
    ax.set_xlabel(xlabel, fontsize=FS, labelpad=xpad)
    ax.set_ylabel(ylabel, fontsize=FS, labelpad=ypad)
    ax.set_title(title, fontsize=FS, pad=13)
    return ax


resid_panel((97, 1032, 327, 1213), f1_idx + band_idx_d + band_idx_e, f1_res + f1_res_d + f1_res_e,
            f1_fit_x, f1_fit_y, BLUE, BLUE_E,
            (-21, 543), (-0.104, 0.1366), [0, 100, 200, 300, 400, 500],
            [-0.10, -0.05, 0, 0.05, 0.10], ['\u22120.10', '\u22120.05', '0', '0.05', '0.10'],
            'Residuals versus index', 8, 11)
pred_panel((437, 1032, 660, 1213), f2_true, f2_pred, f2_reg_x, f2_reg_y, BLUE, BLUE_E,
           (-0.022, 0.525), (-0.018, 0.461), [0, 0.1, 0.2, 0.3, 0.4, 0.5],
           ['0', '0.1', '0.2', '0.3', '0.4', '0.5'], [0, 0.1, 0.2, 0.3, 0.4],
           ['0', '0.1', '0.2', '0.3', '0.4'], 'FI (true)', 'vFI (predicted)', 'Predicted versus true', 8, 18)
resid_panel((770, 1032, 1003, 1213), f3_idx, f3_res, f3_fit_x, f3_fit_y, BLUE, BLUE_E,
            (-4.5, 127.5), (-0.136, 0.165), [0, 25, 50, 75, 100, 125],
            [-0.1, 0, 0.1], ['\u22120.1', '0', '0.1'], 'Residuals versus index', 8, 16)
pred_panel((1110, 1032, 1340, 1213), f4_true, f4_pred, f4_reg_x, f4_reg_y, BLUE, BLUE_E,
           (-0.018, 0.409), (-0.017, 0.418), [0, 0.1, 0.2, 0.3, 0.4],
           ['0', '0.1', '0.2', '0.3', '0.4'], [0, 0.1, 0.2, 0.3, 0.4],
           ['0', '0.1', '0.2', '0.3', '0.4'], 'Normalized FI (true)', 'vFI (predicted)', 'Predicted versus true', 8, 17)

resid_panel((97, 1327, 327, 1512), g1_idx + band_idx_d + band_idx_e, g1_res + g1_res_d + g1_res_e,
            g1_fit_x, g1_fit_y, RED, RED_E,
            (-22, 543), (-41, 53), [0, 100, 200, 300, 400, 500],
            [-25, 0, 25, 50], ['\u221225', '0', '25', '50'], 'Residuals versus index', 9, 8)
pred_panel((437, 1327, 660, 1512), g2_true, g2_pred, g2_reg_x, g2_reg_y, RED, RED_E,
           (-7.8, 168.8), (-5.8, 153), [0, 50, 100, 150], ['0', '50', '100', '150'],
           [0, 50, 100, 150], ['0', '50', '100', '150'], 'TestAge (true)', 'TestAge (predicted)',
           'Predicted versus true', 9, 14)
resid_panel((770, 1327, 1003, 1512), g3_idx, g3_res, g3_fit_x, g3_fit_y, RED, RED_E,
            (-4.5, 132), (-53.3, 55.6), [0, 25, 50, 75, 100, 125],
            [-50, -25, 0, 25, 50], ['\u221250', '\u221225', '0', '25', '50'], 'Residuals versus index', 9, 15)
pred_panel((1110, 1327, 1340, 1512), g4_true, g4_pred, g4_reg_x, g4_reg_y, RED, RED_E,
           (-5.6, 132.7), (-5, 120.5), [0, 25, 50, 75, 100, 125],
           ['0', '25', '50', '75', '100', '125'], [0, 30, 60, 90, 120],
           ['0', '30', '60', '90', '120'], 'TestAge (true)', 'TestAge (predicted)', 'Predicted versus true', 9, 14)

fig.savefig('out.png', dpi=100)
